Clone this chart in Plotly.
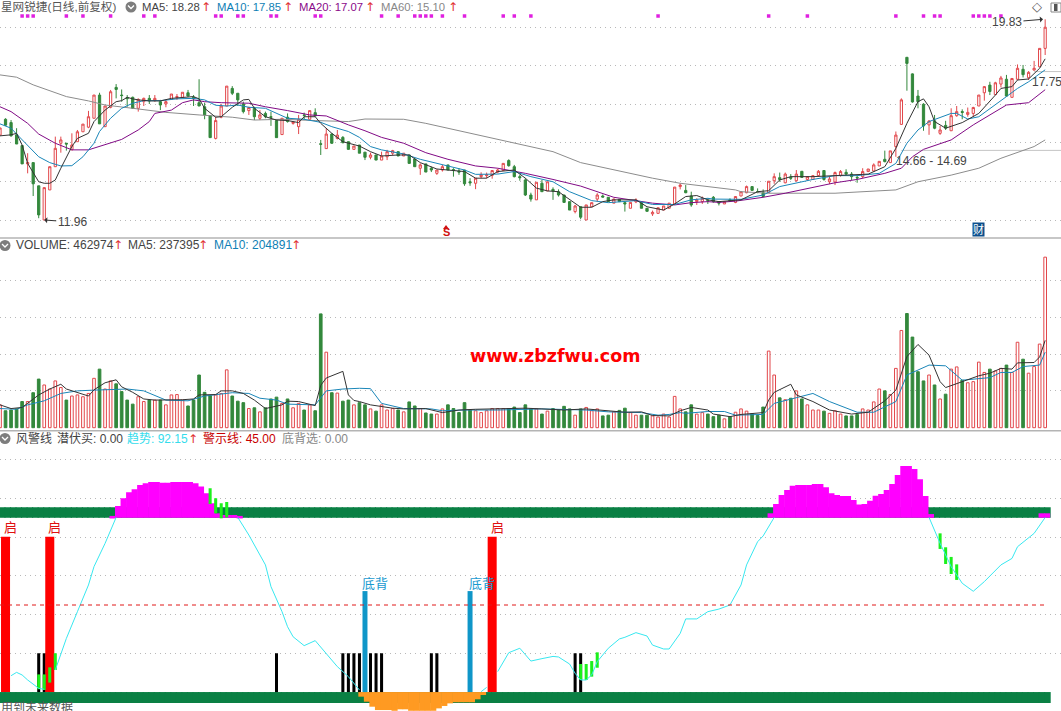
import plotly.graph_objects as go

W, H = 1061, 711
FONT = "Liberation Sans, Noto Sans CJK SC, sans-serif"

opens = [
15.29,15.91,15.78,15.30,14.88,14.16,14.21,13.30,11.96,13.14,
14.05,14.97,14.97,14.71,15.03,15.42,15.60,15.95,16.86,15.62,
16.38,17.16,16.86,16.76,16.77,16.34,16.60,16.73,16.64,16.60,
16.51,16.69,16.76,16.77,16.95,16.77,16.56,16.40,16.05,15.16,
15.99,16.43,17.12,16.93,16.51,16.25,16.34,15.95,16.14,16.01,
15.86,15.31,15.99,15.75,15.62,16.08,15.91,16.17,14.95,14.76,
15.33,15.16,15.20,15.03,14.73,14.90,14.62,14.42,14.51,14.31,
14.44,14.58,14.64,14.47,14.51,14.35,13.99,14.16,13.99,13.79,
13.92,14.12,13.94,13.88,13.92,13.46,13.40,13.66,13.70,13.71,
13.84,13.90,14.29,14.05,13.66,13.53,12.94,12.75,13.40,13.10,
13.16,13.07,12.94,12.68,12.29,12.48,11.96,12.48,12.78,12.90,
12.85,12.62,12.77,12.64,12.42,12.67,12.64,12.42,12.20,12.22,
12.35,12.42,12.59,13.27,13.12,12.90,12.68,12.68,12.73,12.85,
12.68,12.59,12.75,12.65,12.90,13.03,13.27,13.07,13.03,13.03,
13.50,13.62,13.42,13.64,13.50,13.87,13.55,13.55,13.70,13.90,
13.46,13.45,13.71,13.83,13.76,13.63,13.66,13.86,13.88,14.08,
14.34,14.21,14.84,15.71,18.34,17.69,16.82,16.50,15.69,15.85,
15.36,15.67,15.46,16.05,16.21,16.10,16.14,16.43,16.95,17.25,
16.88,17.29,17.48,16.77,17.48,17.87,17.54,17.84,17.97,18.69]
highs = [
15.57,15.95,15.88,15.56,14.88,14.58,14.21,13.30,13.23,14.05,
15.23,15.23,14.97,15.36,15.49,15.72,16.24,16.86,16.95,16.43,
17.06,17.29,17.08,16.86,16.80,16.73,16.76,16.86,16.86,16.67,
16.67,16.90,16.90,16.97,17.06,16.86,17.48,16.56,16.05,16.01,
16.51,17.21,17.21,16.93,16.60,16.40,16.40,16.27,16.21,16.21,
15.90,15.95,16.14,15.82,16.08,16.17,16.25,16.34,15.10,15.56,
15.36,15.49,15.25,15.03,14.86,14.90,14.62,14.60,14.51,14.64,
14.71,14.71,14.64,14.58,14.51,14.35,14.18,14.16,14.05,13.92,
14.12,14.12,13.99,13.99,13.92,13.60,13.60,13.83,13.82,13.92,
13.97,14.18,14.34,14.12,13.73,13.60,13.03,13.44,13.53,13.46,
13.24,13.16,12.94,12.68,12.55,12.48,12.55,12.64,13.01,12.96,
12.85,12.80,12.77,12.68,12.65,12.81,12.64,12.42,12.33,12.44,
12.51,12.62,13.25,13.40,13.33,13.07,12.81,12.88,12.81,12.90,
12.68,12.68,12.81,12.90,13.07,13.31,13.27,13.20,13.16,13.48,
13.79,13.82,13.82,13.76,13.92,13.87,13.66,13.70,13.92,13.92,
13.66,13.86,13.92,13.95,13.84,13.73,13.99,13.96,14.18,14.26,
14.68,14.67,15.43,16.73,18.34,17.71,17.06,16.54,15.88,16.08,
15.65,15.85,16.34,16.43,16.30,16.37,16.40,16.86,17.21,17.38,
17.38,17.61,17.65,17.51,18.06,18.04,17.80,18.20,18.69,19.83]
lows = [
15.29,15.65,15.23,14.94,14.16,13.79,12.90,12.03,11.96,13.14,
14.05,14.60,14.68,14.71,15.03,15.42,15.56,15.95,15.73,15.62,
16.34,16.73,16.60,16.40,16.34,16.21,16.43,16.51,16.60,16.27,
16.38,16.69,16.67,16.77,16.80,16.43,16.43,15.91,15.19,15.12,
15.95,16.43,16.86,16.43,16.14,16.08,15.88,15.88,15.95,15.65,
15.19,15.31,15.78,15.70,15.33,15.88,15.91,16.01,14.51,14.76,
14.94,15.12,14.97,14.71,14.73,14.58,14.31,14.34,14.31,14.31,
14.31,14.51,14.47,14.47,14.18,14.05,13.73,13.84,13.84,13.73,
13.86,13.92,13.66,13.73,13.30,13.30,13.17,13.60,13.60,13.58,
13.79,13.90,14.05,13.63,13.50,12.90,12.68,12.75,13.07,13.10,
12.75,12.88,12.65,12.35,12.22,11.99,11.96,12.48,12.68,12.85,
12.68,12.62,12.68,12.29,12.42,12.62,12.42,12.30,12.12,12.22,
12.35,12.42,12.59,13.16,13.01,12.48,12.55,12.59,12.59,12.64,
12.53,12.59,12.67,12.62,12.90,13.01,13.12,13.01,12.85,13.03,
13.38,13.46,13.40,13.53,13.46,13.63,13.50,13.55,13.66,13.50,
13.37,13.33,13.66,13.73,13.53,13.42,13.60,13.86,13.86,14.08,
14.22,14.21,14.44,15.69,17.03,16.56,16.34,15.46,15.30,15.52,
15.30,15.49,15.46,16.01,15.91,16.01,16.01,16.43,16.64,16.86,
16.86,17.16,16.80,16.77,17.45,17.55,17.45,17.82,17.97,18.43]
closes = [
15.57,15.68,15.26,14.94,14.16,14.21,13.38,12.16,13.23,14.05,
14.77,15.10,14.94,14.90,15.42,15.72,16.01,16.86,15.73,16.43,
16.99,17.08,16.84,16.72,16.34,16.69,16.73,16.63,16.73,16.47,
16.60,16.90,16.80,16.97,16.82,16.73,16.43,16.08,15.19,15.86,
16.43,17.21,16.93,16.67,16.21,16.37,16.01,16.08,16.01,15.99,
15.19,15.95,15.82,15.80,15.91,16.06,16.25,16.04,14.93,15.33,
14.97,15.29,14.99,14.73,14.86,14.58,14.42,14.51,14.31,14.47,
14.64,14.68,14.47,14.58,14.18,14.05,14.12,13.84,13.92,13.92,
14.05,13.92,13.90,13.84,13.38,13.42,13.60,13.73,13.73,13.90,
13.92,14.18,14.09,13.66,13.62,12.94,12.78,13.44,13.07,13.46,
13.10,12.94,12.65,12.35,12.51,12.07,12.55,12.64,12.94,12.86,
12.68,12.78,12.68,12.59,12.65,12.75,12.42,12.30,12.26,12.44,
12.51,12.62,13.25,13.33,13.03,12.55,12.75,12.81,12.71,12.68,
12.62,12.68,12.71,12.88,13.07,13.27,13.12,13.05,12.88,13.48,
13.66,13.55,13.76,13.60,13.76,13.63,13.66,13.70,13.87,13.55,
13.57,13.82,13.86,13.76,13.66,13.61,13.86,13.96,14.12,14.26,
14.25,14.67,15.29,16.67,18.10,16.59,16.60,15.65,15.84,15.56,
15.49,15.56,16.05,16.21,16.18,16.18,16.37,16.86,17.19,17.00,
17.34,17.53,16.82,17.51,17.91,17.66,17.75,17.91,18.69,19.52]
bars = list(range(len(opens)))

ma5_idx = [0,2,3,4,5,7,8,9,10,11,13,14,16,17,19,21,22,23,24,25,27,29,31,33,35,36,37,39,40,42,44,45,46,48,50,52,54,55,57,58,60,62,65,
67,69,72,74,76,79,84,86,88,90,93,95,97,99,101,103,105,107,109,111,115,117,120,122,124,126,128,
130,134,137,139,141,143,147,150,154,157,160,162,164,166,167,168,169,171,174,177,180,181,183,184,186,188,189]
ma5_val = [15.26,15.30,15.36,14.90,14.18,13.46,13.40,13.40,13.53,13.99,14.84,15.16,15.36,15.82,16.27,16.60,16.64,16.77,16.71,16.67,16.63,16.63,16.73,16.77,16.80,16.71,16.34,15.99,16.01,16.38,16.67,16.69,16.34,16.01,15.88,15.86,15.78,16.01,16.01,15.75,15.36,15.03,14.86,
14.64,14.47,14.51,14.51,14.21,13.96,13.86,13.60,13.60,13.86,13.92,13.60,13.21,13.10,13.07,12.75,12.46,12.46,12.68,12.75,12.75,12.48,12.35,12.59,12.88,12.92,12.75,
12.68,12.75,13.07,13.11,13.53,13.66,13.66,13.69,13.71,13.76,14.05,14.77,15.75,16.60,16.71,16.40,15.82,15.56,15.78,16.14,16.86,17.12,17.19,17.45,17.49,17.91,18.28]
ma10_idx = [0,2,3,5,7,9,11,13,15,17,18,20,22,24,26,29,32,35,37,39,41,43,45,48,50,52,55,58,60,63,65,
67,69,73,76,79,84,86,90,93,96,100,103,107,110,115,118,122,125,128,
129,134,138,141,144,147,151,155,159,162,164,166,168,172,173,175,177,179,182,184,186,189]
ma10_val = [15.73,15.56,15.33,14.90,14.44,14.21,14.08,14.09,14.44,14.97,15.43,15.95,16.34,16.54,16.64,16.64,16.71,16.73,16.67,16.46,16.43,16.47,16.38,16.34,16.14,15.95,15.91,15.79,15.62,15.43,15.20,
14.84,14.71,14.55,14.34,14.18,13.92,13.75,13.76,13.86,13.66,13.46,13.07,12.72,12.64,12.72,12.57,12.57,12.75,12.81,
12.78,12.77,12.94,13.27,13.42,13.55,13.70,13.70,13.79,14.18,14.97,15.49,15.82,16.14,16.14,15.92,16.01,16.34,16.80,17.12,17.38,17.85]
ma20_idx = [0,2,5,7,10,13,16,19,22,25,27,28,31,33,35,37,40,45,48,52,56,59,63,
66,69,73,77,81,86,90,95,100,105,111,118,122,125,128,
130,133,138,142,146,151,155,160,163,165,167,172,176,179,182,186,189]
ma20_val = [16.40,16.21,15.75,15.33,14.97,14.71,14.71,14.90,15.12,15.49,15.82,16.14,16.27,16.56,16.67,16.60,16.56,16.54,16.40,16.25,16.08,16.04,15.69,
15.46,15.20,14.97,14.60,14.34,14.08,13.99,13.79,13.55,13.29,12.85,12.62,12.55,12.64,12.68,
12.65,12.70,12.85,13.01,13.20,13.42,13.55,13.79,13.99,14.44,14.73,15.10,15.69,16.08,16.47,16.56,17.07]
ma60_idx = [0,3,6,9,12,16,19,24,30,36,42,46,51,57,63,66,73,77,81,87,93,100,105,111,118,123,128,130,133,134,139,151,157,162,166,172,177,181,187,189]
ma60_val = [17.65,17.56,17.26,17.02,16.80,16.63,16.47,16.34,16.18,16.08,15.99,15.88,15.91,15.86,15.82,15.92,15.91,15.75,15.56,15.26,14.97,14.64,14.21,13.92,13.60,13.40,13.27,13.23,13.14,13.07,13.01,13.01,13.07,13.14,13.46,13.72,13.99,14.38,14.84,15.10]
signal_dots = [4,5,6,12,15,20,26,28,39,40,43,44,49,50,57,58,69,72,75,76,77,78,80,84,91,93,96,119,139,146,162,167,169,170,176,177,178,179,181]

volume_k = [
62,46,48,51,71,71,95,132,116,105,
127,109,75,86,89,84,93,134,159,105,
127,119,98,75,64,84,71,75,75,75,
62,89,90,75,59,75,143,96,87,89,
93,157,86,72,68,52,54,43,54,78,
83,66,78,54,66,48,62,46,309,205,
95,94,72,75,62,68,62,51,45,62,
48,52,48,43,70,59,52,40,37,37,
51,62,52,41,68,48,46,41,46,52,
52,52,52,56,41,62,51,51,37,45,
52,48,58,51,34,51,55,46,51,32,
34,43,47,53,41,34,34,34,32,29,
37,29,85,51,43,62,37,41,37,30,
34,24,30,42,51,45,38,33,56,208,
143,81,76,80,100,78,62,48,48,45,
39,46,37,32,32,36,51,48,70,105,
100,90,161,264,310,246,152,127,143,116,
78,91,159,165,129,122,125,178,150,159,
154,161,170,150,232,186,148,166,227,463]
vma5_idx = [0,2,4,5,7,9,11,12,14,16,17,19,21,22,24,26,28,31,33,35,36,39,40,42,44,46,48,51,52,54,57,58,59,62,63,64,65,
67,71,73,77,80,83,86,90,95,98,102,106,110,113,116,118,121,123,125,128,
129,132,134,138,139,140,143,144,147,150,154,157,160,162,164,166,168,170,171,174,177,179,181,183,184,187,188,189]
vma5_val = [62,52,55,66,89,105,118,105,95,86,103,122,130,111,96,78,75,75,76,78,89,90,100,100,93,75,52,62,72,71,60,115,135,153,89,74,71,
62,53,51,52,41,48,50,51,53,51,48,51,46,42,43,33,32,46,55,48,
37,30,36,41,75,96,118,89,71,48,37,42,73,102,193,226,197,125,109,125,141,148,161,159,176,177,192,237]
vma10_idx = [0,3,5,8,11,14,17,23,26,30,34,37,42,45,47,50,52,57,59,62,65,
67,69,73,78,80,84,90,98,106,110,116,119,121,123,124,128,
131,133,138,140,145,147,150,155,158,162,164,168,171,174,179,181,183,185,188,189]
vma10_val = [52,50,62,73,93,100,102,105,100,75,73,86,95,93,80,75,64,62,100,105,107,
106,66,52,51,46,48,48,51,48,43,41,34,36,41,39,44,
44,34,36,66,84,93,71,42,42,71,143,170,168,129,136,150,150,166,170,205]

trend_idx = [2,3,4,5,7,8,None,10,12,14,16,17,19,21,None,
43,45,48,49,51,52,53,55,57,59,61,63,65,None,
87,88,None,90,92,94,96,98,100,101,103,104,105,106,107,108,110,112,113,115,117,118,120,121,123,124,126,128,130,132,134,135,137,138,140,None,
168,170,172,174,176,178,181,183,184,187,189]
trend_val = [6.9,8.7,7.3,4.6,0.1,-0.4,None,10.0,27.0,41.4,55.8,65.7,78.2,92.2,None,
92.2,82.7,66.6,54.9,41.4,33.3,27.9,23.1,25.8,19.0,11.8,6.4,-0.8,None,
-1.7,0.6,None,9.1,19.3,21.7,14.8,16.1,17.3,17.0,13.2,8.2,4.6,4.6,7.3,14.5,21.7,26.7,27.6,30.1,28.3,23.4,21.3,21.3,29.7,37.5,37.5,41.4,42.8,45.0,55.8,66.6,79.1,82.2,92.2,None,
92.2,78.2,65.7,56.7,52.4,57.6,66.6,70.1,76.4,83.6,92.15]
warning_level = 45.0
band_upper = (92.0, 97.6)
band_lower = (-7.8, -1.9)
magenta_idx = list(range(20,44)) + list(range(139,169)) + [188,189]
magenta_top = [93,98.3,102.5,105.7,107.3,109.7,110.6,111.3,111.3,110.9,110.9,111.3,111.3,111.3,111.3,110.6,108.8,105.2,99.8,94.4,93.5,93.5,93.5,93,
94.4,99.4,104.3,107,109.3,109.7,109.7,109.7,110.2,110.2,108.4,105.2,104.3,103.7,103.7,101.6,99.1,99.4,101.2,103.9,104.8,107,110.2,115,119.9,119.9,118.3,112.7,103.7,94,
94.4,94.4]
orange_idx = list(range(65,88))
orange_low = [-4.4,-7.1,-9.8,-11.6,-11.6,-11.6,-12,-11.2,-11.2,-12,-12,-12,-12,-12,-10.7,-9.4,-8,-7.4,-7.4,-7.4,-7.4,-5.8,-3.5]
black_idx = [7,8,50,62,63,64,65,67,68,69,78,79,104,105]
black_top = 19.0
blue_idx = [66,85]
blue_top = 52.5
red_idx = [1,9,89]
red_top = 81.8
lime_idx = [7,8,9,10,38,39,40,41,105,106,107,108,170,171,172,173]
lime_low = [-0.4,-0.8,3.2,10,99.4,94.4,91.7,92.2,4.6,4.6,6.4,11.2,75.2,67.1,61.7,58.5]
lime_high = [7.6,7.6,11.4,19,107.9,102.5,99.8,100.5,13.2,13.2,14.8,19.5,83.6,76.1,70.9,66.9]

RED = "#e2474b"; GREEN = "#33883c"
BLACK = "#333333"; TEAL = "#1a86b8"; PURPLE = "#800a85"; GREY = "#8c8c8c"
up = [c >= o for o, c in zip(opens, closes)]

fig = go.Figure()
fig.add_trace(go.Scatter(x=[163, 192], y=[14.69, 14.69], yaxis="y", mode="lines", line=dict(color="#c4c4c4", width=1)))
fig.add_trace(go.Scatter(x=[187, 192], y=[17.78, 17.78], yaxis="y", mode="lines", line=dict(color="#c4c4c4", width=1)))
fig.add_trace(go.Scatter(x=ma60_idx, y=ma60_val, yaxis="y", mode="lines", line=dict(color=GREY, width=1)))
fig.add_trace(go.Candlestick(x=bars, open=opens, high=highs, low=lows, close=closes, yaxis="y",
    increasing=dict(line=dict(color=RED, width=1), fillcolor="white"),
    decreasing=dict(line=dict(color=GREEN, width=1), fillcolor=GREEN), whiskerwidth=0))
fig.add_trace(go.Scatter(x=ma20_idx, y=ma20_val, yaxis="y", mode="lines", line=dict(color=PURPLE, width=1)))
fig.add_trace(go.Scatter(x=ma10_idx, y=ma10_val, yaxis="y", mode="lines", line=dict(color=TEAL, width=1)))
fig.add_trace(go.Scatter(x=ma5_idx, y=ma5_val, yaxis="y", mode="lines", line=dict(color=BLACK, width=1)))
fig.add_trace(go.Scatter(x=signal_dots, y=[19.96]*len(signal_dots), yaxis="y", mode="markers",
    marker=dict(symbol="square", size=3.5, color="#e020e0", line=dict(width=0))))

fig.add_trace(go.Bar(x=bars, y=volume_k, yaxis="y2", width=0.48,
    marker=dict(color=["white" if u else GREEN for u in up], line=dict(color=[RED if u else GREEN for u in up], width=1))))
fig.add_trace(go.Scatter(x=vma10_idx, y=vma10_val, yaxis="y2", mode="lines", line=dict(color=TEAL, width=1)))
fig.add_trace(go.Scatter(x=vma5_idx, y=vma5_val, yaxis="y2", mode="lines", line=dict(color=BLACK, width=1)))

BAND = "#0a8044"
def bar3(x, low, high, color, width, **kw):
    fig.add_trace(go.Bar(x=x, y=[h - l for h, l in zip(high, low)], base=low, yaxis="y3", width=width,
                         marker=dict(color=color, line=dict(width=0)), **kw))
n = len(bars)
bar3(bars, [band_upper[0]]*n, [band_upper[1]]*n, BAND, 1.2, offset=-0.2)
bar3(bars, [band_lower[0]]*n, [band_lower[1]]*n, BAND, 1.2, offset=-0.2)
bar3(magenta_idx, [band_upper[0]]*len(magenta_idx), magenta_top, "#ff00ff", 1.1, offset=-0.2)
bar3(orange_idx, orange_low, [band_lower[1]]*len(orange_idx), "#ff9a22", 1.1, offset=-0.2)
bar3(black_idx, [band_lower[1]]*len(black_idx), [black_top]*len(black_idx), "#000000", 0.55)
bar3(blue_idx, [band_lower[1]]*len(blue_idx), [blue_top]*len(blue_idx), "#0f96c8", 0.9)
bar3(red_idx, [band_lower[1]]*len(red_idx), [red_top]*len(red_idx), "#ff0000", 1.63)
bar3(lime_idx, lime_low, lime_high, "#1cf01c", 0.55)
fig.add_trace(go.Scatter(x=trend_idx, y=trend_val, yaxis="y3", mode="lines", connectgaps=False, line=dict(color="#38e8f0", width=1)))
fig.add_trace(go.Scatter(x=[0, 189], y=[warning_level]*2, yaxis="y3", mode="lines", line=dict(color="#e01818", width=1, dash="4px,4px")))

ann = []
def label(px, py, text, color="#555555", size=12, anchor="left", family=FONT, **kw):
    ann.append(dict(x=px/W, y=1-py/H, xref="paper", yref="paper", text=text, showarrow=False, xanchor=anchor, yanchor="middle",
                    font=dict(family=family, size=size, color=color), **kw))
def arrow(px, py):
    label(px, py, "↑", color="#e03030", size=12, anchor="center", family="DejaVu Sans")

label(-1, 7, "星网锐捷(日线,前复权)", size=11.6)
label(140, 7, "MA5: 18.28", color="#444444", size=11.3)
arrow(206, 7)
label(215, 7, "MA10: 17.85", color="#0f7fb5", size=11.3)
arrow(288, 7)
label(296.5, 7, "MA20: 17.07", color="#8a0a8a", size=11.3)
arrow(370, 7)
label(379, 7, "MA60: 15.10", color="#888888", size=11.3)
arrow(452.5, 7)

label(13.5, 245.5, "VOLUME: 462974", color="#444444")
arrow(117.5, 245.5)
label(126, 245.5, "MA5: 237395", color="#444444")
arrow(203, 245.5)
label(212, 245.5, "MA10: 204891", color="#0f7fb5")
arrow(296, 245.5)

label(13.5, 438.5, "风警线", color="#444444")
label(54.5, 438.5, "潜伏买: 0.00", color="#444444")
label(125, 438.5, "趋势: 92.15", color="#35dcec")
arrow(193, 438.5)
label(201, 438.5, "警示线: 45.00", color="#c80000")
label(279.5, 438.5, "底背选: 0.00", color="#888888")
label(-1, 707, "用到未来数据", color="#555555")

label(10.5, 527.5, "启", color="#e01010", size=13, anchor="center")
label(54.5, 527.5, "启", color="#e01010", size=13, anchor="center")
label(497.5, 527.5, "启", color="#e01010", size=13, anchor="center")
label(375, 583, "底背", color="#1a9ad0", size=13, anchor="center")
label(481.5, 583, "底背", color="#1a9ad0", size=13, anchor="center")

label(554.5, 355.5, "www.zbzfwu.com", color="#ff0000", size=17.5, anchor="center", family="DejaVu Sans")
ann[-1]["font"]["weight"] = "bold"
label(931, 161, "14.66 - 14.69", color="#444444", anchor="center")
label(1047, 82, "17.75", color="#444444", anchor="center")
label(1037, 7, "◇", color="#555555", size=13, anchor="center", family="DejaVu Sans")
label(446, 231.5, "<b>S</b>", color="#d01010", size=11, anchor="center")
label(978.5, 229.5, "财", color="white", size=11, anchor="center", bgcolor="#0c4f8c", borderpad=0)

ann.append(dict(x=8, y=11.96, xref="x", yref="y", text="11.96", ax=28, ay=2, axref="pixel", ayref="pixel", showarrow=True,
                arrowhead=1, arrowsize=1, arrowwidth=1, arrowcolor="#333333", font=dict(family=FONT, size=12, color="#444444")))
ann.append(dict(x=188.6, y=19.83, xref="x", yref="y", text="19.83", ax=-36, ay=3, axref="pixel", ayref="pixel", showarrow=True,
                arrowhead=1, arrowsize=1, arrowwidth=1, arrowcolor="#333333", font=dict(family=FONT, size=12, color="#444444")))

shapes = []
def pshape(kind, x0, y0, x1, y1, **kw):
    shapes.append(dict(type=kind, xref="paper", yref="paper", x0=x0/W, x1=x1/W, y0=1-y0/H, y1=1-y1/H, layer="above", **kw))
def ppath(points, closed=False, **kw):
    d = "M " + " L ".join(f"{px/W:.5f} {1-py/H:.5f}" for px, py in points) + (" Z" if closed else "")
    shapes.append(dict(type="path", xref="paper", yref="paper", path=d, layer="above", **kw))
pshape("line", 0, 238, W, 238, line=dict(color="#b4b4b4", width=1.5))
pshape("line", 0, 430.7, W, 430.7, line=dict(color="#b4b4b4", width=1.5))
for cx, cy in ((131, 7), (5, 245.5), (5, 438.5)):
    pshape("circle", cx-5.5, cy-5.5, cx+5.5, cy+5.5, fillcolor="#7d7d7d", line=dict(width=0))
    ppath([(cx-3, cy-1.5), (cx, cy+1.5), (cx+3, cy-1.5)], line=dict(color="white", width=1.3))
ppath([(443, 229), (446, 225), (449, 229)], closed=True, fillcolor="#d01010", line=dict(width=0))
pshape("rect", 1051, 3, 1061, 12, fillcolor="white", line=dict(color="#888888", width=1))
pshape("rect", 1054, 4, 1057.5, 11, fillcolor="#555555", line=dict(width=0))

GRID = dict(showgrid=True, gridcolor="#b8b8b8", griddash="1px,4px", gridwidth=1, zeroline=False, showticklabels=False, ticks="", showline=False)
fig.update_layout(
    width=W, height=H, margin=dict(l=0, r=0, t=0, b=0), paper_bgcolor="white", plot_bgcolor="white",
    showlegend=False, barmode="overlay", boxgap=0.42, hovermode=False, annotations=ann, shapes=shapes,
    xaxis=dict(range=[0, W/5.53], visible=False, rangeslider=dict(visible=False), fixedrange=True),
    yaxis=dict(domain=[1-237.5/H, 1], range=[11.96-17.5/25.5, 11.96+220/25.5],
               tickvals=[11.96,13.47,14.98,16.49,18.0,19.51], **GRID),
    yaxis2=dict(domain=[1-430.5/H, 1-238/H], anchor="x", range=[(427.7-430.5)*2.715, (427.7-238)*2.715],
                tickvals=[100,200,300,400], **GRID),
    yaxis3=dict(domain=[0, 1-430.5/H], anchor="x", range=[45+(605-711)/1.856, 45+(605-430.5)/1.856],
                tickvals=[19,40,61,81.5,102.5,123.5], **GRID),
)
fig.write_html("out.html", config=dict(displayModeBar=False), post_script="document.body.style.margin='0';document.body.style.overflow='hidden';")
